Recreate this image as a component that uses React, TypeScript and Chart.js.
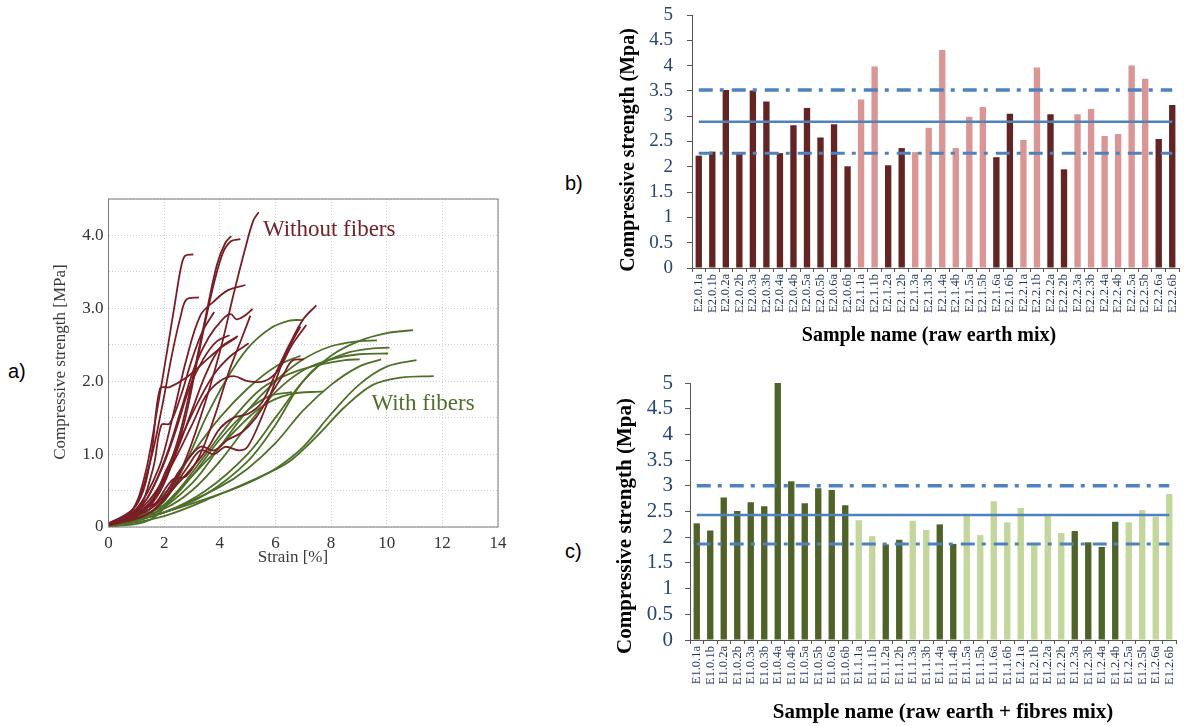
import React, { useEffect, useRef } from "react";
import { Chart, registerables } from "chart.js";

Chart.register(...registerables);

const SERIF = '"Liberation Serif", "Times New Roman", serif';

// ---------------- Panel a: stress-strain curves ----------------
const strainMax = 14;
const strengthMax = 4.5;

// Without fibers (x = strain %, y = MPa)
const without1 = [[0, 0.05], [0.8, 0.2], [1.3, 0.7], [1.7, 1.5], [2.1, 2.4], [2.4, 3.1], [2.6, 3.55], [2.75, 3.72], [3.05, 3.74]];
const without2 = [[0, 0.05], [0.9, 0.25], [1.5, 0.9], [1.9, 1.6], [2.3, 2.4], [2.6, 2.9], [2.8, 3.12], [3.25, 3.15]];
const without3 = [[0, 0.03], [1.0, 0.3], [1.5, 0.9], [1.85, 1.9], [2.2, 1.92], [2.8, 2.05], [3.4, 2.25], [4.0, 2.45], [4.6, 2.6]];
const without4 = [[0, 0.03], [1.0, 0.15], [1.8, 0.5], [2.5, 1.2], [3.0, 2.0], [3.5, 2.9], [3.9, 3.6], [4.2, 3.9], [4.41, 3.99]];
const without5 = [[0, 0.03], [1.2, 0.2], [2.0, 0.6], [2.7, 1.4], [3.2, 2.3], [3.7, 3.2], [4.1, 3.75], [4.4, 3.92], [4.74, 3.95]];
const without6 = [[0, 0.02], [1.5, 0.2], [2.5, 0.7], [3.3, 1.5], [4.0, 2.4], [4.5, 3.2], [4.9, 3.8], [5.2, 4.2], [5.4, 4.32]];
const without7 = [[0, 0.03], [1.0, 0.25], [1.8, 0.8], [2.3, 1.5], [2.8, 2.3], [3.3, 2.9], [3.8, 3.1], [4.3, 3.25], [4.92, 3.32]];
const without8 = [[0, 0.03], [1.2, 0.3], [2.0, 0.9], [2.6, 1.6], [3.1, 2.2], [3.6, 2.6], [4.1, 2.85], [4.4, 2.92], [4.6, 2.85], [4.9, 2.9], [5.18, 2.99]];
const without9 = [[0, 0.02], [1.5, 0.3], [2.3, 0.9], [3.0, 1.6], [3.5, 2.1], [4.0, 2.45], [4.65, 2.62]];
const without10 = [[0, 0.03], [1.0, 0.2], [1.8, 0.7], [2.4, 1.3], [2.9, 1.9], [3.4, 2.3], [3.9, 2.55], [4.35, 2.63]];
const without11 = [[0, 0.02], [1.5, 0.2], [2.5, 0.6], [3.2, 0.9], [3.6, 1.1], [4.0, 1.35], [4.5, 1.5], [5.0, 1.55], [5.5, 1.7], [6.0, 2.1], [6.5, 2.5], [7.0, 2.85], [7.47, 3.04]];
const without12 = [[0, 0.02], [1.3, 0.3], [2.2, 0.8], [3.0, 1.4], [3.5, 1.8], [4.0, 2.0], [4.5, 2.07], [5.0, 2.0], [5.6, 2.0], [6.1, 2.15], [6.6, 2.5], [7.11, 2.77]];
const without13 = [[0, 0.02], [1.7, 0.3], [2.6, 0.8], [3.3, 1.1], [3.8, 1.05], [4.3, 1.2], [4.8, 1.3], [5.3, 1.5], [5.8, 1.8], [6.3, 2.1], [6.6, 2.28], [7.01, 2.3]];
const without14 = [[0, 0.03], [1.4, 0.3], [2.1, 0.8], [2.7, 1.3], [3.2, 1.7], [3.8, 2.1], [4.4, 2.35], [5.04, 2.52]];
const without15 = [[0, 0.02], [2.0, 0.4], [2.8, 0.8], [3.3, 1.05], [3.8, 1.0], [4.2, 1.1], [4.7, 1.05], [5.0, 1.1], [5.5, 1.5], [6.0, 2.0], [6.4, 2.4], [6.9, 2.75]];
const without16 = [[0, 0.02], [1.0, 0.2], [1.6, 0.8], [1.9, 1.4], [2.2, 1.42], [2.6, 1.8], [3.0, 2.3], [3.4, 2.7], [3.8, 2.95]];
const without17 = [[0, 0.02], [1.5, 0.25], [2.3, 0.65], [2.8, 0.7], [3.3, 1.0], [3.8, 1.5], [4.3, 2.1], [4.8, 2.6], [5.1, 2.9]];

// With fibers
const with1 = [[0, 0], [1, 0.08], [2, 0.35], [2.8, 0.9], [3.5, 1.5], [4.2, 2.0], [5, 2.45], [5.8, 2.72], [6.5, 2.83], [7.01, 2.84]];
const with2 = [[0, 0], [2, 0.2], [3.5, 0.5], [5, 1.0], [6, 1.5], [7, 2.0], [8, 2.35], [9, 2.55], [10, 2.66], [10.95, 2.7]];
const with3 = [[0, 0], [1.5, 0.15], [3, 0.6], [4, 1.1], [5, 1.6], [6, 2.0], [7, 2.3], [8, 2.48], [9, 2.55], [9.65, 2.56]];
const with4 = [[0, 0], [2, 0.2], [3.5, 0.45], [5, 0.9], [6, 1.4], [6.8, 1.9], [7.5, 2.2], [8.5, 2.38], [9.5, 2.45], [10.1, 2.46]];
const with5 = [[0, 0], [2, 0.25], [3, 0.5], [4, 0.9], [5, 1.4], [6, 1.85], [7, 2.15], [8, 2.3], [9, 2.37], [10.05, 2.38]];
const with6 = [[0, 0], [1.5, 0.1], [2.5, 0.5], [3.5, 1.0], [4.5, 1.5], [5.5, 1.9], [6.5, 2.1], [7.5, 2.22], [8.5, 2.29], [9.03, 2.3]];
const with7 = [[0, 0], [2, 0.2], [4, 0.45], [5, 0.6], [6, 0.8], [7, 1.1], [8, 1.55], [9, 1.95], [10, 2.2], [11.07, 2.29]];
const with8 = [[0, 0], [2, 0.15], [4, 0.45], [5.5, 0.7], [6.5, 0.9], [7.5, 1.25], [8.5, 1.65], [9.5, 1.95], [10.5, 2.05], [11.69, 2.07]];
const with9 = [[0, 0], [1.5, 0.15], [2.5, 0.5], [3.5, 0.9], [4.5, 1.3], [5.5, 1.65], [6.5, 1.82], [7.73, 1.86]];
const with10 = [[0, 0], [1, 0.1], [2, 0.45], [3, 1.0], [4, 1.5], [5, 1.9], [6, 2.2], [6.9, 2.35]];
const with11 = [[0, 0], [2, 0.3], [3, 0.7], [4, 1.2], [5, 1.6], [5.8, 1.8], [6.6, 1.85]];
const with12 = [[0, 0], [2, 0.2], [4, 0.55], [5, 0.8], [6, 1.15], [7, 1.6], [8, 1.95], [9, 2.2], [9.8, 2.3]];

const withoutCurves = [without1, without2, without3, without4, without5, without6, without7, without8, without9, without10, without11, without12, without13, without14, without15, without16, without17];
const withCurves = [with1, with2, with3, with4, with5, with6, with7, with8, with9, with10, with11, with12];

const withoutLabel = { text: "Without fibers", x: 5.55, y: 4.07 };
const withLabel = { text: "With fibers", x: 9.45, y: 1.69 };

// ---------------- Panel b: raw earth mix ----------------
const earthLabels = [
  "E2.0.1a", "E2.0.1b", "E2.0.2a", "E2.0.2b", "E2.0.3a", "E2.0.3b", "E2.0.4a", "E2.0.4b", "E2.0.5a", "E2.0.5b", "E2.0.6a", "E2.0.6b",
  "E2.1.1a", "E2.1.1b", "E2.1.2a", "E2.1.2b", "E2.1.3a", "E2.1.3b", "E2.1.4a", "E2.1.4b", "E2.1.5a", "E2.1.5b", "E2.1.6a", "E2.1.6b",
  "E2.2.1a", "E2.2.1b", "E2.2.2a", "E2.2.2b", "E2.2.3a", "E2.2.3b", "E2.2.4a", "E2.2.4b", "E2.2.5a", "E2.2.5b", "E2.2.6a", "E2.2.6b",
];
const earthValues = [
  2.22, 2.30, 3.52, 2.29, 3.51, 3.29, 2.27, 2.82, 3.16, 2.58, 2.84, 2.01,
  3.33, 3.98, 2.03, 2.37, 2.29, 2.77, 4.31, 2.37, 2.99, 3.18, 2.19, 3.05,
  2.53, 3.96, 3.04, 1.95, 3.04, 3.14, 2.61, 2.65, 4.00, 3.74, 2.55, 3.22,
];
// 1 = dark bar, 0 = light bar
const earthDark = [
  1, 1, 1, 1, 1, 1, 1, 1, 1, 1, 1, 1,
  0, 0, 1, 1, 0, 0, 0, 0, 0, 0, 1, 1,
  0, 0, 1, 1, 0, 0, 0, 0, 0, 0, 1, 1,
];
const earthMean = 2.89;
const earthUpper = 3.52;
const earthLower = 2.27;

// ---------------- Panel c: raw earth + fibres mix ----------------
const fibreLabels = [
  "E1.0.1a", "E1.0.1b", "E1.0.2a", "E1.0.2b", "E1.0.3a", "E1.0.3b", "E1.0.4a", "E1.0.4b", "E1.0.5a", "E1.0.5b", "E1.0.6a", "E1.0.6b",
  "E1.1.1a", "E1.1.1b", "E1.1.2a", "E1.1.2b", "E1.1.3a", "E1.1.3b", "E1.1.4a", "E1.1.4b", "E1.1.5a", "E1.1.5b", "E1.1.6a", "E1.1.6b",
  "E1.2.1a", "E1.2.1b", "E1.2.2a", "E1.2.2b", "E1.2.3a", "E1.2.3b", "E1.2.4a", "E1.2.4b", "E1.2.5a", "E1.2.5b", "E1.2.6a", "E1.2.6b",
];
const fibreValues = [
  2.27, 2.13, 2.77, 2.51, 2.68, 2.60, 5.00, 3.09, 2.66, 2.95, 2.92, 2.62,
  2.33, 2.02, 1.86, 1.95, 2.32, 2.14, 2.25, 1.87, 2.42, 2.04, 2.70, 2.29,
  2.57, 1.86, 2.42, 2.08, 2.12, 1.90, 1.81, 2.30, 2.29, 2.53, 2.40, 2.84,
];
const fibreDark = [
  1, 1, 1, 1, 1, 1, 1, 1, 1, 1, 1, 1,
  0, 0, 1, 1, 0, 0, 1, 1, 0, 0, 0, 0,
  0, 0, 0, 0, 1, 1, 1, 1, 0, 0, 0, 0,
];
const fibreMean = 2.43;
const fibreUpper = 3.0;
const fibreLower = 1.87;

const strengthTicksMax = 5;

// ---------------- helpers ----------------
type FreeText = { text: string; x: number; y: number; font: string; color: string; rotate?: boolean };

function freeTextPlugin(id: string, items: FreeText[]) {
  return {
    id,
    afterDraw(chart: any) {
      const ctx = chart.ctx as CanvasRenderingContext2D;
      for (const t of items) {
        ctx.save();
        ctx.font = t.font;
        ctx.fillStyle = t.color;
        ctx.textAlign = "center";
        ctx.textBaseline = "middle";
        ctx.translate(t.x, t.y);
        if (t.rotate) ctx.rotate(-Math.PI / 2);
        ctx.fillText(t.text, 0, 0);
        ctx.restore();
      }
    },
  };
}

const RED = "#7A1E25";
const GREEN = "#4E7028";

function makeStrainChart(canvas: HTMLCanvasElement) {
  const toPts = (c: number[][]) => c.map(([x, y]) => ({ x, y }));
  const lineStyle = (color: string) => ({
    showLine: true,
    borderColor: color,
    backgroundColor: color,
    borderWidth: 1.8,
    pointRadius: 0,
    tension: 0.35,
    fill: false,
  });
  const datasets: any[] = [
    ...withoutCurves.map((c) => ({ data: toPts(c), ...lineStyle(RED) })),
    ...withCurves.map((c) => ({ data: toPts(c), ...lineStyle(GREEN) })),
  ];

  const framePlugin = {
    id: "frame",
    afterDatasetsDraw(chart: any) {
      const { ctx, chartArea } = chart;
      ctx.save();
      ctx.strokeStyle = "#7a7a7a";
      ctx.lineWidth = 1;
      ctx.strokeRect(chartArea.left, chartArea.top, chartArea.right - chartArea.left, chartArea.bottom - chartArea.top);
      ctx.restore();
    },
  };
  const annotPlugin = {
    id: "curveLabels",
    afterDraw(chart: any) {
      const { ctx, scales } = chart;
      const draw = (l: { text: string; x: number; y: number }, color: string) => {
        ctx.save();
        ctx.font = `23px ${SERIF}`;
        ctx.fillStyle = color;
        ctx.textAlign = "left";
        ctx.textBaseline = "middle";
        ctx.fillText(l.text, scales.x.getPixelForValue(l.x), scales.y.getPixelForValue(l.y));
        ctx.restore();
      };
      draw(withoutLabel, "#742229");
      draw(withLabel, "#4F6E2C");
    },
  };

  return new Chart(canvas, {
    type: "scatter",
    data: { datasets },
    options: {
      animation: false,
      responsive: false,
      layout: { padding: { top: 14, right: 22, left: 0, bottom: 0 } },
      plugins: { legend: { display: false }, tooltip: { enabled: false } },
      scales: {
        x: {
          type: "linear",
          min: 0,
          max: strainMax,
          afterFit: (s: any) => { s.height = 53; s.paddingLeft = 0; s.paddingRight = 0; },
          ticks: { stepSize: 2, padding: 6, color: "#333", font: { family: SERIF, size: 17 } },
          grid: { color: "#cfcfcf", lineWidth: 1, drawTicks: false },
          border: { display: false, dash: [1, 2] },
        },
        y: {
          type: "linear",
          min: 0,
          max: strengthMax,
          afterFit: (s: any) => { s.width = 78.5; s.paddingTop = 0; s.paddingBottom = 0; },
          ticks: {
            stepSize: 0.5,
            autoSkip: false,
            padding: 5,
            color: "#333",
            font: { family: SERIF, size: 17 },
            callback: (v: any) => {
              const n = Number(v);
              if (Math.abs(n - Math.round(n)) > 1e-6) return "";
              return n === 0 ? "0" : n.toFixed(1);
            },
          },
          grid: { color: "#cfcfcf", lineWidth: 1, drawTicks: false },
          border: { display: false, dash: [1, 2] },
        },
      },
    } as any,
    plugins: [
      framePlugin,
      annotPlugin,
      freeTextPlugin("titlesA", [
        { text: "Strain [%]", x: 263, y: 373, font: `17px ${SERIF}`, color: "#3a3a3a" },
        { text: "Compressive strength [MPa]", x: 31, y: 177, font: `17px ${SERIF}`, color: "#3a3a3a", rotate: true },
      ]),
    ] as any,
  });
}

type BarCfg = {
  labels: string[];
  values: number[];
  dark: number[];
  darkColor: string;
  lightColor: string;
  mean: number;
  upper: number;
  lower: number;
  yAxisWidth: number;
  xAxisHeight: number;
  padTop: number;
  padRight: number;
  yTickFont: number;
  yTickPad: number;
  xTickFont: number;
  titles: FreeText[];
};

function makeBarChart(canvas: HTMLCanvasElement, cfg: BarCfg) {
  const LINE = "#4F81BD";
  const colors = cfg.dark.map((d) => (d ? cfg.darkColor : cfg.lightColor));
  const refLine = (value: number, width: number, dash: number[]) => ({
    type: "line",
    data: cfg.labels.map(() => value),
    borderColor: LINE,
    backgroundColor: LINE,
    borderWidth: width,
    borderDash: dash,
    pointRadius: 0,
    fill: false,
    order: 0,
  });
  return new Chart(canvas, {
    type: "bar",
    data: {
      labels: cfg.labels,
      datasets: [
        refLine(cfg.upper, 3.5, [14, 7, 4, 8]),
        refLine(cfg.mean, 2.5, []),
        refLine(cfg.lower, 3, [14, 7, 4, 8]),
        {
          type: "bar",
          data: cfg.values,
          backgroundColor: colors,
          borderWidth: 0,
          barPercentage: 0.47,
          categoryPercentage: 1.0,
          order: 1,
        },
      ] as any,
    },
    options: {
      animation: false,
      responsive: false,
      layout: { padding: { top: cfg.padTop, right: cfg.padRight, left: 0, bottom: 0 } },
      plugins: { legend: { display: false }, tooltip: { enabled: false } },
      scales: {
        x: {
          type: "category",
          offset: true,
          afterFit: (s: any) => { s.height = cfg.xAxisHeight; s.paddingLeft = 0; s.paddingRight = 0; },
          ticks: {
            autoSkip: false,
            minRotation: 90,
            maxRotation: 90,
            padding: 2,
            color: "#1F3358",
            font: { family: SERIF, size: cfg.xTickFont },
          },
          grid: { display: true, offset: true, drawOnChartArea: false, drawTicks: true, tickLength: 4, color: "#555" },
          border: { display: true, color: "#555", width: 1 },
        },
        y: {
          type: "linear",
          min: 0,
          max: strengthTicksMax,
          afterFit: (s: any) => { s.width = cfg.yAxisWidth; s.paddingTop = 0; s.paddingBottom = 0; },
          ticks: {
            stepSize: 0.5,
            autoSkip: false,
            padding: cfg.yTickPad,
            color: "#264570",
            font: { family: SERIF, size: cfg.yTickFont },
            callback: (v: any) => String(Math.round(Number(v) * 10) / 10),
          },
          grid: { display: true, drawOnChartArea: false, drawTicks: true, tickLength: 5, color: "#555" },
          border: { display: true, color: "#555", width: 1 },
        },
      },
    } as any,
    plugins: [freeTextPlugin("titlesBar", cfg.titles)] as any,
  });
}

function ChartBox(props: { left: number; top: number; width: number; height: number; make: (c: HTMLCanvasElement) => Chart }) {
  const ref = useRef<HTMLCanvasElement>(null);
  useEffect(() => {
    const chart = props.make(ref.current as HTMLCanvasElement);
    return () => chart.destroy();
  }, []);
  return (
    <canvas
      ref={ref}
      width={props.width}
      height={props.height}
      style={{ position: "absolute", left: props.left, top: props.top, width: props.width, height: props.height }}
    />
  );
}

const panelLabelStyle: React.CSSProperties = {
  position: "absolute",
  fontFamily: '"Liberation Sans", Arial, sans-serif',
  fontSize: 20,
  color: "#000",
  lineHeight: "20px",
};

export default function App() {
  return (
    <div style={{ position: "absolute", left: 0, top: 0, width: 1184, height: 726, background: "#fff", overflow: "hidden" }}>
      <div style={{ ...panelLabelStyle, left: 8, top: 361 }}>a)</div>
      <div style={{ ...panelLabelStyle, left: 565, top: 173 }}>b)</div>
      <div style={{ ...panelLabelStyle, left: 565, top: 541 }}>c)</div>
      <ChartBox left={30} top={185} width={490} height={395} make={makeStrainChart} />
      <ChartBox
        left={595}
        top={0}
        width={589}
        height={355}
        make={(c) =>
          makeBarChart(c, {
            labels: earthLabels,
            values: earthValues,
            dark: earthDark,
            darkColor: "#632523",
            lightColor: "#D99694",
            mean: earthMean,
            upper: earthUpper,
            lower: earthLower,
            yAxisWidth: 97,
            xAxisHeight: 87,
            padTop: 15,
            padRight: 5,
            yTickFont: 19,
            yTickPad: 14,
            xTickFont: 12.5,
            titles: [
              { text: "Sample name (raw earth mix)", x: 334, y: 336, font: `bold 20px ${SERIF}`, color: "#000" },
              { text: "Compressive strength (Mpa)", x: 34, y: 150, font: `bold 20px ${SERIF}`, color: "#000", rotate: true },
            ],
          })
        }
      />
      <ChartBox
        left={595}
        top={365}
        width={589}
        height={361}
        make={(c) =>
          makeBarChart(c, {
            labels: fibreLabels,
            values: fibreValues,
            dark: fibreDark,
            darkColor: "#4F6228",
            lightColor: "#C3D69B",
            mean: fibreMean,
            upper: fibreUpper,
            lower: fibreLower,
            yAxisWidth: 95,
            xAxisHeight: 86,
            padTop: 18,
            padRight: 8,
            yTickFont: 21,
            yTickPad: 12,
            xTickFont: 12.5,
            titles: [
              { text: "Sample name (raw earth + fibres mix)", x: 348, y: 348, font: `bold 21px ${SERIF}`, color: "#000" },
              { text: "Compressive strength (Mpa)", x: 31, y: 161, font: `bold 21px ${SERIF}`, color: "#000", rotate: true },
            ],
          })
        }
      />
    </div>
  );
}
